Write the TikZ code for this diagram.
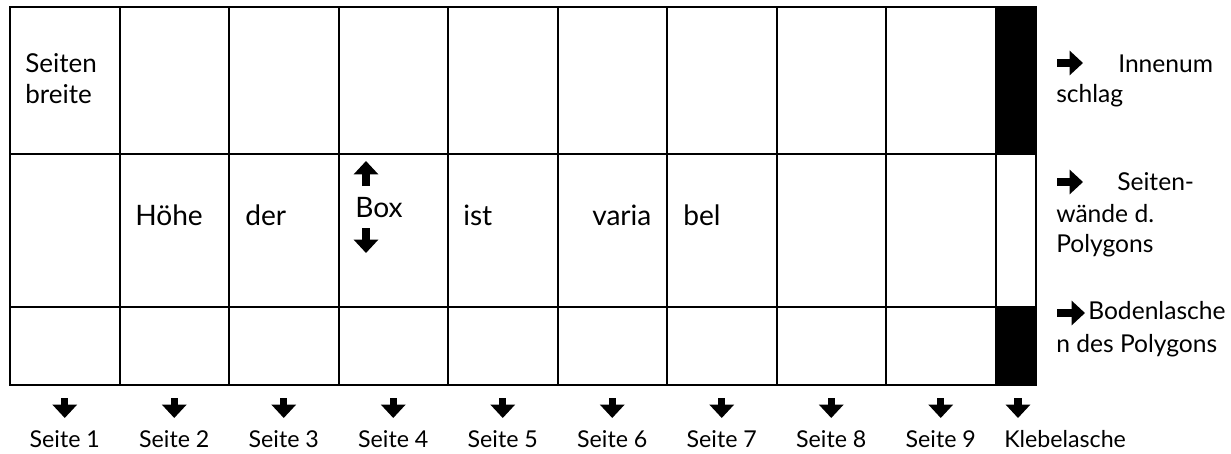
\documentclass[tikz,border=0pt]{standalone}
\usepackage{fontspec}
\setmainfont{Lato}
\usetikzlibrary{arrows.meta,positioning}

\tikzset{
    cell/.style={rectangle, draw, line width=1.4pt, inner sep=0pt, outer sep=0pt,
        anchor=north west, minimum width=2.7375cm},
    flapcell/.style={cell, minimum width=1.0125cm},
    celltext/.style={anchor=base west, inner sep=0pt, font=\fontsize{20}{24}\selectfont},
    sidetext/.style={anchor=base west, inner sep=0pt, font=\fontsize{17.5}{21}\selectfont},
    pagetext/.style={anchor=base, inner sep=0pt, font=\fontsize{16.5}{20}\selectfont},
    fatarrow/.style={line width=5pt, -{Triangle[width=17pt,length=9.5pt]}},
}

\begin{document}
\begin{tikzpicture}[x=0.025cm, y=-0.025cm]
\useasboundingbox (0,0) rectangle (1231,454);

% --- Grid: nine pages ---
\foreach \i in {1,...,9}{
    \pgfmathsetmacro{\xl}{10+(\i-1)*109.5}
    \node[cell, minimum height=3.675cm] (c\i-1) at (\xl,7) {};
    \node[cell, minimum height=3.825cm] (c\i-2) at (\xl,154) {};
    \node[cell, minimum height=1.95cm] (c\i-3) at (\xl,307) {};
    % arrow and page label
    \coordinate (a\i) at (\xl+54.75,398);
    \draw[fatarrow] (a\i) -- ++(0,20);
    \node[pagetext] (p\i) at (\xl+54.75,447) {Seite \i};
}

% --- Klebelasche column ---
\node[flapcell, fill=black, minimum height=3.675cm] (c10-1) at (995.5,7) {};
\node[flapcell, minimum height=3.825cm] (c10-2) at (995.5,154) {};
\node[flapcell, fill=black, minimum height=1.95cm] (c10-3) at (995.5,307) {};
\coordinate (a10) at (1018,398);
\draw[fatarrow] (a10) -- ++(0,20);
\node[pagetext, anchor=base west] (p10) at (1004,447) {Klebelasche};

% --- Cell texts ---
\node[celltext, font=\fontsize{18.5}{22}\selectfont] (breite1) at (25,72) {Seiten};
\node[celltext, font=\fontsize{18.5}{22}\selectfont] (breite2) at (25,103) {breite};
\node[celltext] (w1) at (135,225) {Höhe};
\node[celltext] (w2) at (245,225) {der};
\node[celltext] (w3) at (355,217) {Box};
\node[celltext] (w4) at (463,225) {ist};
\node[celltext] (w5) at (592,225) {varia};
\node[celltext] (w6) at (683,225) {bel};
\coordinate (up) at (366,186);
\coordinate (down) at (366,228);
\draw[fatarrow] (up) -- ++(0,-25);
\draw[fatarrow] (down) -- ++(0,25);

% --- Side notes ---
\coordinate (s1) at (1057,63);
\draw[fatarrow] (s1) -- ++(26,0);
\node[sidetext] (n1a) at (1118,72) {Innenum};
\node[sidetext] (n1b) at (1056,102) {schlag};

\coordinate (s2) at (1057,182);
\draw[fatarrow] (s2) -- ++(26,0);
\node[sidetext] (n2a) at (1117,190) {Seiten-};
\node[sidetext] (n2b) at (1056,222) {wände d.};
\node[sidetext] (n2c) at (1056,252) {Polygons};

\coordinate (s3) at (1057,313);
\draw[fatarrow] (s3) -- ++(28,0);
\node[sidetext] (n3a) at (1088,319) {Bodenlasche};
\node[sidetext] (n3b) at (1056,352) {n des Polygons};

\end{tikzpicture}
\end{document}
